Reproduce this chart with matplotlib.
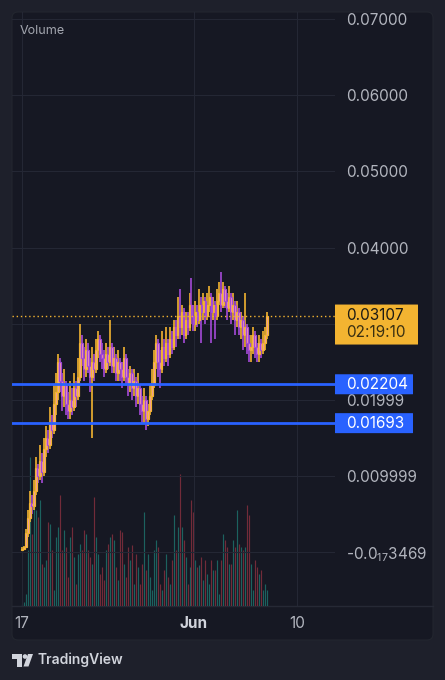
import numpy as np
import matplotlib
matplotlib.use("Agg")
import matplotlib.pyplot as plt
from matplotlib import transforms
from matplotlib.patches import FancyBboxPatch, Polygon, Circle

plt.rcParams['font.family'] = ['Inter', 'DejaVu Sans']
plt.rcParams['mathtext.fontset'] = 'custom'
plt.rcParams['mathtext.rm'] = 'Inter'

# 4h candles, prices in thousandths (31.07 -> 0.03107)
close_k = [0.4, 0.6, 2.5, 4.5, 6.5, 6.0, 8.0, 11.0, 10.0, 12.0,
           10.5, 13.5, 15.0, 14.0, 17.0, 16.0, 19.5, 21.0, 25.0, 22.5,
           20.5, 22.0, 19.5, 18.5, 20.0, 19.0, 21.5, 20.5, 23.0, 27.5,
           25.5, 24.0, 26.5, 24.5, 23.0, 25.0, 24.0, 26.5, 28.0, 26.0,
           25.5, 24.0, 26.0, 25.0, 27.0, 24.5, 25.5, 23.5, 25.0, 24.0,
           23.0, 25.5, 23.0, 22.0, 23.5, 21.5, 22.5, 20.5, 21.5, 19.5,
           18.5, 20.0, 17.5, 18.5, 20.5, 22.0, 25.0, 27.5, 25.0, 24.0,
           27.0, 25.5, 27.5, 26.0, 28.0, 27.0, 29.5, 28.5, 31.0, 29.5,
           31.5, 28.5, 30.5, 29.5, 32.5, 31.0, 30.0, 31.5, 30.5, 32.5,
           31.5, 33.0, 31.0, 32.5, 33.5, 31.5, 32.5, 31.0, 33.0, 34.0,
           32.5, 34.5, 33.0, 32.0, 33.5, 31.5, 32.5, 30.5, 31.5, 29.5,
           30.5, 28.5, 29.5, 27.5, 26.5, 27.0, 28.5, 27.0, 26.0, 27.5,
           26.5, 27.5, 28.5, 31.07]
high_k = [0.6, 0.8, 3.0, 5.5, 8.0, 7.5, 9.5, 12.5, 11.5, 14.0,
          13.0, 15.0, 16.5, 16.0, 19.0, 18.0, 22.0, 23.5, 26.0, 25.5,
          23.5, 24.0, 22.5, 21.0, 22.5, 21.5, 23.5, 22.5, 25.5, 30.0,
          28.5, 27.0, 28.0, 27.5, 25.5, 27.0, 26.0, 28.0, 29.0, 28.5,
          27.5, 26.5, 27.5, 27.0, 30.5, 27.5, 27.0, 26.0, 26.5, 25.5,
          25.0, 27.0, 26.0, 24.0, 24.5, 24.0, 24.0, 23.0, 23.5, 22.0,
          20.5, 21.5, 20.5, 19.5, 22.0, 24.0, 26.5, 28.5, 28.0, 26.5,
          29.0, 28.0, 29.5, 28.0, 29.5, 29.0, 30.5, 30.5, 33.5, 34.5,
          32.5, 32.0, 31.5, 31.5, 34.0, 36.0, 32.5, 33.0, 32.5, 34.5,
          33.5, 34.0, 33.5, 34.0, 35.0, 34.0, 33.5, 33.0, 34.5, 35.5,
          36.8, 35.5, 35.0, 34.0, 35.0, 34.0, 34.0, 33.0, 33.0, 32.0,
          31.5, 31.0, 34.0, 30.0, 28.5, 28.5, 29.5, 29.0, 27.5, 28.5,
          28.0, 29.0, 29.5, 31.6]
low_k = [0.2, 0.3, 0.5, 2.0, 4.0, 5.0, 5.5, 7.5, 9.0, 9.5,
         9.0, 10.0, 12.5, 13.0, 13.5, 15.0, 15.5, 18.0, 20.0, 21.0,
         18.5, 19.0, 18.0, 17.5, 17.5, 18.0, 18.5, 19.0, 20.0, 22.5,
         24.5, 22.5, 23.0, 23.5, 21.0, 15.0, 22.5, 23.5, 25.5, 25.0,
         24.0, 23.0, 23.5, 24.0, 24.5, 23.5, 23.5, 22.5, 22.5, 22.5,
         21.5, 22.5, 22.0, 20.5, 21.0, 20.0, 20.5, 19.0, 19.5, 18.0,
         17.0, 17.0, 16.0, 16.5, 18.0, 20.0, 21.5, 24.0, 23.0, 21.5,
         23.5, 24.5, 25.0, 24.5, 25.5, 26.0, 26.5, 27.0, 28.0, 28.0,
         28.5, 27.5, 28.0, 28.5, 29.0, 30.0, 29.0, 29.0, 29.5, 30.0,
         27.5, 30.5, 30.0, 30.5, 31.5, 27.5, 30.5, 28.0, 30.5, 32.5,
         31.5, 32.0, 32.0, 30.5, 31.5, 30.0, 30.5, 28.5, 29.5, 28.5,
         28.0, 26.5, 27.0, 26.0, 25.0, 25.0, 26.0, 25.5, 25.0, 25.0,
         25.5, 26.0, 26.5, 28.0]
first_open_k = 0.3

volume = [2, 4, 12, 56, 149, 72, 106, 96, 89, 106,
          42, 39, 46, 84, 82, 56, 16, 69, 79, 111,
          56, 76, 59, 29, 69, 79, 49, 22, 52, 62,
          56, 76, 72, 56, 49, 42, 109, 69, 52, 32,
          39, 26, 56, 62, 69, 72, 66, 39, 26, 76,
          74, 42, 29, 59, 46, 61, 22, 52, 39, 22,
          42, 94, 36, 52, 29, 16, 56, 66, 59, 22,
          16, 36, 52, 29, 22, 46, 91, 56, 79, 132,
          79, 66, 49, 22, 39, 106, 94, 46, 39, 41,
          49, 26, 46, 32, 22, 46, 36, 36, 46, 12,
          46, 72, 66, 59, 42, 42, 66, 59, 96, 62,
          59, 56, 59, 101, 91, 42, 16, 46, 39, 32,
          36, 16, 22, 16]

last_price = 0.03107
countdown = "02:19:10"
levels = [0.02204, 0.01693]
price_ticks = [0.07, 0.06, 0.05, 0.04, 0.03, 0.02, 0.01, 0.0]
price_labels = ["0.07000", "0.06000", "0.05000", "0.04000", "",
                "0.01999", "0.009999", r"-0.0$_{\mathrm{17}}$3469"]
date_ticks = [0, 15, 24]          # days after May 17
date_labels = ["17", "Jun", "10"]
candle_days = 0.174

close = np.array(close_k) / 1000
high = np.array(high_k) / 1000
low = np.array(low_k) / 1000
opn = np.concatenate([[first_open_k / 1000], close[:-1]])
t = np.arange(len(close)) * candle_days
up = close >= opn

outer_bg = '#1e202b'
pane_bg = '#161823'
grid_c = '#242734'
text_c = '#b2b5be'
gold = '#f3b431'
purple = '#a44ad8'
pink = '#f09aa8'
blue = '#2962ff'

W, H = 445, 680
fig = plt.figure(figsize=(W / 100, H / 100), dpi=100)
fig.patch.set_facecolor(outer_bg)

# pixel-space background layer
bg = fig.add_axes([0, 0, 1, 1])
bg.set_xlim(0, W)
bg.set_ylim(H, 0)
bg.axis('off')
bg.add_patch(FancyBboxPatch((12, 12), 421, 628, boxstyle="round,pad=0,rounding_size=6",
                            fc=pane_bg, ec='#23262f', lw=0.8))
bg.plot([12, 433], [606, 606], color='#262935', lw=1)

# TradingView logo
bg.add_patch(Polygon([(12, 654), (21.5, 654), (21.5, 666.5), (17, 666.5), (17, 658.5), (12, 658.5)],
                     closed=True, fc='#d1d4dc', ec='none'))
bg.add_patch(Circle((25, 656.5), 2.3, fc='#d1d4dc', ec='none'))
bg.add_patch(Polygon([(28, 654), (33, 654), (28.5, 666.5), (23.5, 666.5)], closed=True,
                     fc='#d1d4dc', ec='none'))
bg.text(37, 660, "TradingView", color='#d1d4dc', fontsize=10, fontweight='semibold',
        va='center', ha='left')

# main price axes
left, right, top, bottom = 12, 335, 12, 606
rect = [left / W, 1 - bottom / H, (right - left) / W, (bottom - top) / H]
ax = fig.add_axes(rect)
vax = ax.twinx()
ax.set_zorder(vax.get_zorder() + 1)
ax.patch.set_visible(False)
vax.patch.set_visible(False)

xmin, xmax = -0.87, 27.31
ax.set_xlim(xmin, xmax)
ax.set_ylim(-0.0071, 0.07096)

# volume
vcol = ['#1c625f' if u else '#722b39' for u in up]
vax.vlines(t, 0, volume, colors=vcol, lw=0.85)
vax.set_ylim(0, bottom - top)
vax.set_yticks([])
for s in vax.spines.values():
    s.set_visible(False)

# candles
edge = [gold if u else purple for u in up]
ax.vlines(t, low, high, colors=edge, lw=1.2, zorder=3)
ax.bar(t, close - opn, bottom=opn, width=0.16, color=pink, edgecolor=edge, lw=0.85, zorder=4)

# grid
for y in price_ticks:
    ax.axhline(y, color=grid_c, lw=0.8, zorder=0)
for x in date_ticks:
    ax.axvline(x, color=grid_c, lw=0.8, zorder=0)

# horizontal levels and last price
ax.axhline(last_price, color=gold, lw=1, ls=(0, (1, 2)), zorder=5)
for lv in levels:
    ax.axhline(lv, color=blue, lw=2, zorder=5)

ax.yaxis.tick_right()
ax.set_yticks(price_ticks)
ax.set_yticklabels(price_labels)
ax.tick_params(axis='y', length=0, pad=8, labelcolor=text_c, labelsize=11)
ax.set_xticks(date_ticks)
ax.set_xticklabels(date_labels)
ax.tick_params(axis='x', length=0, pad=7.5, labelcolor=text_c, labelsize=11)
for lab in ax.get_xticklabels():
    if lab.get_text() == "Jun":
        lab.set_fontweight('bold')
        lab.set_color('#d1d4dc')
for s in ax.spines.values():
    s.set_visible(False)

ax.text(0.025, 0.968, "Volume", transform=ax.transAxes, color='#a3a6af', fontsize=9,
        va='center', ha='left')

# price labels on the axis
px_per_price = (bottom - top) / (0.07096 + 0.0071)
bt = transforms.blended_transform_factory(ax.transAxes, ax.transData)
ax_w = right - left
box_x0 = (335 - left) / ax_w
txt_x = (346 - left) / ax_w
for lv in levels:
    h = 20 / px_per_price
    ax.add_patch(FancyBboxPatch((box_x0, lv - h / 2), (413 - 335) / ax_w, h,
                                boxstyle="round,pad=0,rounding_size=0.004", transform=bt,
                                fc=blue, ec='none', clip_on=False, zorder=6,
                                mutation_aspect=1 / 300))
    ax.text(txt_x, lv, f"{lv:.5f}", transform=bt, color='white', fontsize=11,
            va='center', ha='left', clip_on=False, zorder=7)

h = 40 / px_per_price
y0 = last_price - 29 / px_per_price
ax.add_patch(FancyBboxPatch((box_x0, y0), (418 - 335) / ax_w, h,
                            boxstyle="round,pad=0,rounding_size=0.004", transform=bt,
                            fc=gold, ec='none', clip_on=False, zorder=6,
                            mutation_aspect=1 / 300))
ax.text(txt_x, last_price, f"{last_price:.5f}", transform=bt, color='#1b1a14', fontsize=11,
        va='center', ha='left', clip_on=False, zorder=7)
ax.text(txt_x, last_price - 17 / px_per_price, countdown, transform=bt, color='#3a3012',
        fontsize=11, va='center', ha='left', clip_on=False, zorder=7)

fig.savefig("out.png", dpi=100, facecolor=fig.get_facecolor())
